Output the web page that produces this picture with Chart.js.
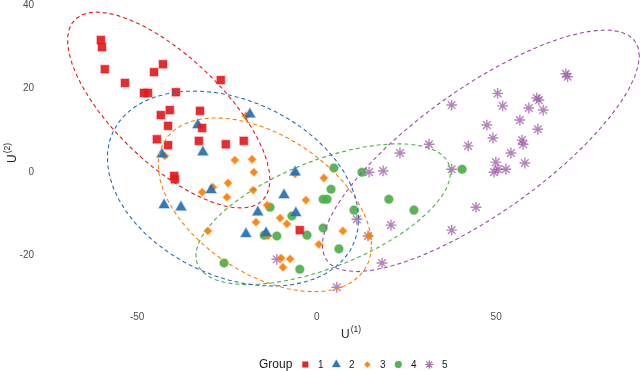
<!DOCTYPE html>
<html>
<head>
<meta charset="utf-8">
<script src="https://cdn.jsdelivr.net/npm/chart.js@4/dist/chart.umd.min.js"></script>
<style>
  html, body { margin: 0; padding: 0; background: #ffffff; }
  #wrap { width: 640px; height: 371px; position: relative; }
</style>
</head>
<body>
<div id="wrap"><canvas id="c" width="640" height="371"></canvas></div>
<script>
// ---------------- data ----------------
const groupLabels = ['1', '2', '3', '4', '5'];
const xTicks = [-50, 0, 50];
const yTicks = [-20, 0, 20, 40];

const group1X = [-60.1, -59.8, -59.0, -53.4, -45.3, -42.8, -26.7, -48.1, -47.0, -39.2, -40.9, -43.4, -32.5, -41.4, -31.9, -44.5, -41.4, -32.8, -25.3, -20.3, -39.7, -39.5, -4.7];
const group1Y = [31.6, 29.9, 24.6, 21.3, 23.9, 25.8, 22.0, 18.9, 18.9, 19.1, 14.8, 13.6, 14.6, 11.0, 10.5, 7.8, 6.4, 7.4, 6.6, 7.4, -1.0, -1.8, -14.0];

const group2X = [-18.6, -33.1, -31.7, -43.1, -6.0, -29.4, -42.5, -37.8, -16.4, -9.1, -5.8, -19.7, -14.1];
const group2Y = [13.8, 11.2, 4.7, 4.2, -0.1, -4.4, -8.0, -8.5, -9.7, -5.6, -9.9, -14.9, -14.7];

const group3X = [-19.7, -42.3, -22.8, -18.0, -17.5, -6.0, -28.9, -24.7, -31.9, -25.0, -17.7, -13.8, -3.0, 2.0, -16.9, -10.2, -8.3, -30.3, -13.6, 7.3, 0.6, -9.9, -7.4, -9.4, 14.6];
const group3Y = [13.4, 3.8, 2.8, 3.0, -0.1, -0.5, -3.7, -2.7, -4.9, -6.1, -4.4, -8.0, -6.8, -1.5, -12.1, -11.1, -12.5, -14.2, -15.4, -14.2, -17.4, -20.7, -20.9, -22.9, -15.4];

const group4X = [-13.0, -6.9, -14.6, -11.1, -2.7, -25.8, -4.7, 1.8, 2.9, 1.8, 6.2, 10.4, 4.8, 12.6, 4.0, 20.1, 27.1, 40.5];
const group4Y = [-8.5, -10.6, -15.2, -15.4, -15.2, -21.9, -23.4, -6.6, -6.6, -13.5, -18.5, -9.2, 0.9, -0.1, -4.2, -6.6, -9.2, 0.6];

const group5X = [69.4, 69.9, 50.4, 51.8, 37.6, 59.1, 61.3, 61.9, 63.1, 56.6, 47.4, 61.6, 49.1, 57.2, 57.5, 42.2, 31.3, 54.1, 23.2, 49.9, 58.0, 52.7, 50.5, 49.4, 14.6, 18.5, 37.6, 44.4, 11.2, 20.7, 37.6, 14.3, 18.2, 5.6, -11.1];
const group5Y = [23.5, 22.8, 18.8, 15.8, 16.0, 15.3, 17.7, 17.2, 14.8, 12.4, 11.2, 10.2, 8.1, 7.6, 6.6, 6.2, 6.6, 4.5, 4.5, 2.3, 2.1, 0.6, 0.6, -0.1, -0.1, 0.2, 0.6, -8.5, -11.4, -12.8, -14.0, -15.4, -21.9, -27.7, -21.0];

// ---------------- styling ----------------
const groupColors = ['#E41A1C', '#2470B6', '#FF7F00', '#4DAF4A', '#984EA3'];
const groupShapes = ['rect', 'triangle', 'rectRot', 'circle', 'star'];
const groupRadius = [5.6, 6.0, 3.9, 4.3, 5.4];
const legendRadius = [4.0, 4.8, 3.0, 3.4, 4.2];

function hexA(hex, a) {
  const n = parseInt(hex.slice(1), 16);
  return `rgba(${(n >> 16) & 255},${(n >> 8) & 255},${n & 255},${a})`;
}

// ---------------- stat_ellipse (type = "t", level = 0.95) ----------------
function covTrob(xs, ys, nu = 5, maxit = 25, tol = 0.01) {
  const n = xs.length, p = 2;
  let w = new Array(n).fill(1);
  let loc = [xs.reduce((a, b) => a + b, 0) / n, ys.reduce((a, b) => a + b, 0) / n];
  let X = [];
  for (let iter = 0; iter < maxit; iter++) {
    const w0 = w.slice();
    X = xs.map((x, i) => [x - loc[0], ys[i] - loc[1]]);
    const sw = w.reduce((a, b) => a + b, 0);
    let sxx = 0, sxy = 0, syy = 0;
    for (let i = 0; i < n; i++) {
      const f = w[i] / sw;
      sxx += f * X[i][0] * X[i][0];
      sxy += f * X[i][0] * X[i][1];
      syy += f * X[i][1] * X[i][1];
    }
    const det = sxx * syy - sxy * sxy;
    w = X.map(([a, b]) => {
      const Q = (syy * a * a - 2 * sxy * a * b + sxx * b * b) / det;
      return (nu + p) / (nu + Q);
    });
    const sw2 = w.reduce((a, b) => a + b, 0);
    loc = [w.reduce((s, wi, i) => s + wi * xs[i], 0) / sw2,
           w.reduce((s, wi, i) => s + wi * ys[i], 0) / sw2];
    if (w.every((wi, i) => Math.abs(wi - w0[i]) < tol)) break;
  }
  let cxx = 0, cxy = 0, cyy = 0;
  for (let i = 0; i < n; i++) {
    cxx += w[i] * X[i][0] * X[i][0];
    cxy += w[i] * X[i][0] * X[i][1];
    cyy += w[i] * X[i][1] * X[i][1];
  }
  return { center: loc, cov: [cxx / n, cxy / n, cyy / n] };
}

function ellipsePath(xs, ys, level = 0.95, segments = 51) {
  const n = xs.length;
  const dfd = n - 1;
  const qf = (dfd / 2) * (Math.pow(1 - level, -2 / dfd) - 1); // qf(level, 2, dfd)
  const radius = Math.sqrt(2 * qf);
  const { center, cov } = covTrob(xs, ys);
  const a = Math.sqrt(cov[0]);
  const b = cov[1] / a;
  const c = Math.sqrt(cov[2] - b * b);
  const out = [];
  for (let k = 0; k <= segments; k++) {
    const t = k * 2 * Math.PI / segments;
    const u = Math.cos(t), v = Math.sin(t);
    out.push({ x: center[0] + radius * u * a, y: center[1] + radius * (u * b + v * c) });
  }
  return out;
}

const groupXs = [group1X, group2X, group3X, group4X, group5X];
const groupYs = [group1Y, group2Y, group3Y, group4Y, group5Y];

const pointSets = groupLabels.map((lab, g) => ({
  type: 'scatter',
  label: lab,
  data: groupXs[g].map((x, i) => ({ x, y: groupYs[g][i] })),
  pointStyle: groupShapes[g],
  pointRadius: groupRadius[g],
  backgroundColor: groupShapes[g] === 'star' ? hexA(groupColors[g], 0.5) : hexA(groupColors[g], 0.92),
  borderColor: groupShapes[g] === 'star' ? hexA(groupColors[g], 0.7) : hexA(groupColors[g], 0.35),
  borderWidth: groupShapes[g] === 'star' ? 1.4 : 1.4,
  order: 2
}));

const ellipseSets = groupLabels.map((lab, g) => ({
  type: 'line',
  label: 'ellipse ' + lab,
  data: ellipsePath(groupXs[g], groupYs[g]),
  borderColor: groupColors[g],
  borderWidth: 1.1,
  borderDash: [4, 3],
  pointRadius: 0,
  fill: false,
  tension: 0,
  showLine: true,
  order: 1
}));

// ---------------- custom text plugin: axis titles + legend ----------------
const FONT = '"Liberation Sans", Arial, Helvetica, sans-serif';
const decorPlugin = {
  id: 'decor',
  afterDraw(chart) {
    const ctx = chart.ctx;
    ctx.save();
    ctx.fillStyle = '#222222';
    ctx.textAlign = 'left';
    ctx.textBaseline = 'alphabetic';
    // x title U^(1)
    ctx.font = '12px ' + FONT;
    const wU = ctx.measureText('U').width;
    ctx.font = '8.5px ' + FONT;
    const wS = ctx.measureText('(1)').width;
    const xStart = 351 - (wU + 1 + wS) / 2;
    ctx.font = '12px ' + FONT;
    ctx.fillText('U', xStart, 337.5);
    ctx.font = '8.5px ' + FONT;
    ctx.fillText('(1)', xStart + wU + 1, 332);
    // y title U^(2)
    ctx.translate(15.5, 153 + (wU + 1 + wS) / 2);
    ctx.rotate(-Math.PI / 2);
    ctx.font = '12px ' + FONT;
    ctx.fillText('U', 0, 0);
    ctx.font = '8.5px ' + FONT;
    ctx.fillText('(2)', wU + 1, -5.5);
    ctx.restore();

    // legend
    ctx.save();
    const ly = 364.5;
    ctx.fillStyle = '#1a1a1a';
    ctx.font = '12px ' + FONT;
    ctx.textBaseline = 'middle';
    ctx.textAlign = 'left';
    ctx.fillText('Group', 259, ly);
    let x = 305.3;
    groupLabels.forEach((lab, g) => {
      const ps = groupShapes[g];
      ctx.fillStyle = hexA(groupColors[g], ps === 'star' ? 0.5 : 0.95);
      ctx.strokeStyle = ps === 'star' ? hexA(groupColors[g], 0.8) : hexA(groupColors[g], 0.35);
      ctx.lineWidth = ps === 'star' ? 1.2 : 1;
      Chart.helpers.drawPoint(ctx, { pointStyle: ps, radius: legendRadius[g], borderWidth: ctx.lineWidth, rotation: 0 }, x, ly);
      ctx.fillStyle = '#1a1a1a';
      ctx.font = '10px ' + FONT;
      ctx.textAlign = 'center';
      ctx.fillText(lab, x + 15.4, ly + 0.5);
      x += 31;
    });
    ctx.restore();
  }
};

const X_MIN = -77.9, X_MAX = 90.06;
const Y_MIN = -32.2, Y_MAX = 41.2;

new Chart(document.getElementById('c'), {
  type: 'scatter',
  data: { datasets: [...ellipseSets, ...pointSets] },
  options: {
    responsive: false,
    animation: false,
    devicePixelRatio: 1,
    events: [],
    layout: { autoPadding: false, padding: { left: 0, right: 0, top: 0, bottom: 0 } },
    plugins: { legend: { display: false }, tooltip: { enabled: false }, title: { display: false } },
    scales: {
      x: {
        type: 'linear', min: X_MIN, max: X_MAX,
        grid: { display: false, drawTicks: false },
        border: { display: false },
        ticks: { color: '#4D4D4D', font: { size: 10, family: FONT }, padding: 5, maxRotation: 0 },
        afterBuildTicks: (s) => { s.ticks = xTicks.map(v => ({ value: v })); },
        afterFit: (s) => { s.height = 65; s.paddingLeft = 0; s.paddingRight = 0; }
      },
      y: {
        type: 'linear', min: Y_MIN, max: Y_MAX,
        grid: { display: false, drawTicks: false },
        border: { display: false },
        ticks: { color: '#4D4D4D', font: { size: 10, family: FONT }, padding: 3 },
        afterBuildTicks: (s) => { s.ticks = yTicks.map(v => ({ value: v })); },
        afterFit: (s) => { s.width = 37; s.paddingTop = 0; s.paddingBottom = 0; }
      }
    }
  },
  plugins: [decorPlugin]
});
</script>
</body>
</html>
